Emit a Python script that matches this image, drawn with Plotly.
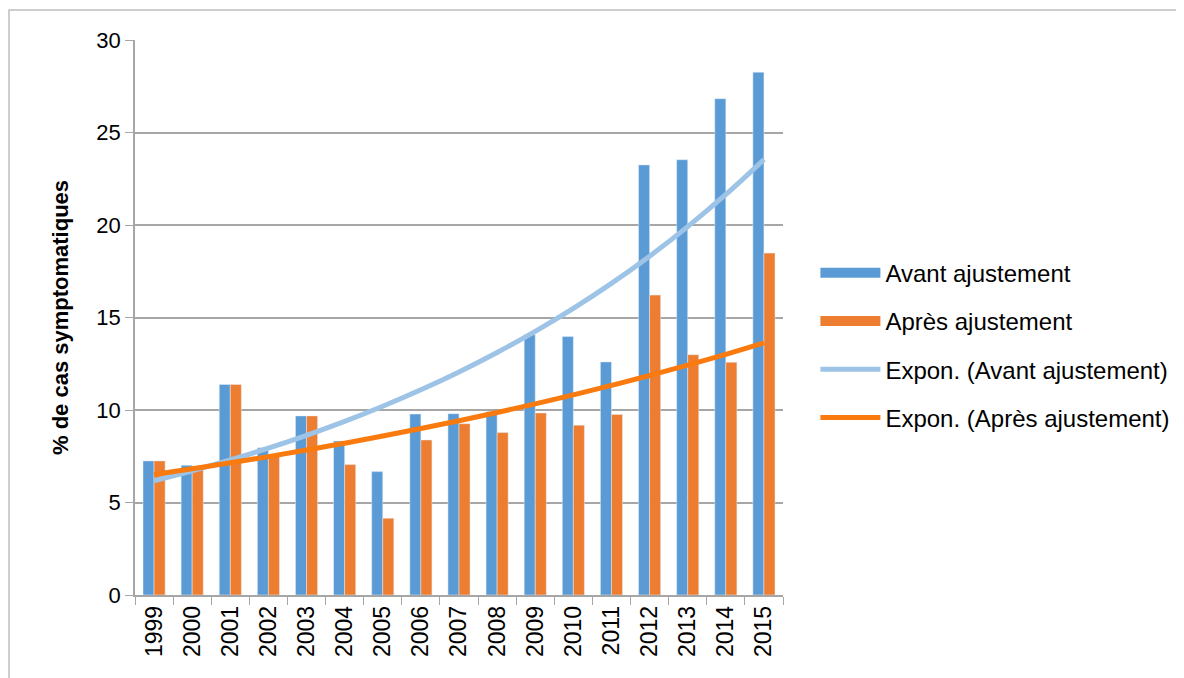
import numpy as np
import plotly.graph_objects as go

years = ["1999", "2000", "2001", "2002", "2003", "2004", "2005", "2006", "2007",
         "2008", "2009", "2010", "2011", "2012", "2013", "2014", "2015"]
avant = [7.25, 7.01, 11.38, 7.96, 9.68, 8.32, 6.67, 9.78, 9.80,
         9.90, 14.07, 13.97, 12.60, 23.25, 23.53, 26.83, 28.26]
apres = [7.25, 6.95, 11.38, 7.60, 9.68, 7.05, 4.15, 8.38, 9.26,
         8.78, 9.84, 9.18, 9.76, 16.21, 12.99, 12.58, 18.48]

names = ["Avant ajustement", "Après ajustement",
         "Expon. (Avant ajustement)", "Expon. (Après ajustement)"]
colors = ["#5B9BD5", "#ED7D31", "#9DC3E6", "#F97B0F"]


def expon_trend(vals):
    # Excel-style exponential trendline: ln(y) = ln(a) + b*x, x = 1..n
    x = np.arange(1, len(vals) + 1)
    b, ln_a = np.polyfit(x, np.log(vals), 1)
    return list(np.exp(ln_a) * np.exp(b * x))


W, H = 1184, 678
ml, mr, mt, mb = 127, 409, 32, 91
pw, ph = W - ml - mr, H - mt - mb

fig = go.Figure()
fig.add_trace(go.Bar(x=years, y=avant, name=names[0], marker_color=colors[0],
                     showlegend=False))
fig.add_trace(go.Bar(x=years, y=apres, name=names[1], marker_color=colors[1],
                     showlegend=False))
# legend entries for the bars, drawn as wide rectangles (Excel-like)
for i, grp in ((0, "a"), (1, "b")):
    fig.add_trace(go.Scatter(x=[None], y=[None], name=names[i], mode="lines",
                             line=dict(color=colors[i], width=13),
                             legendgroup=grp, hoverinfo="skip"))
fig.add_trace(go.Scatter(x=years, y=expon_trend(avant), name=names[2], mode="lines",
                         line=dict(color=colors[2], width=5, shape="spline"),
                         legendgroup="c"))
fig.add_trace(go.Scatter(x=years, y=expon_trend(apres), name=names[3], mode="lines",
                         line=dict(color=colors[3], width=5, shape="spline"),
                         legendgroup="d"))

# light outer chart border
fig.add_shape(type="rect", xref="paper", yref="paper", layer="below",
              x0=(1 - ml) / pw, x1=(1250 - ml) / pw,
              y0=(H - mb - 760) / ph, y1=(H - mb - 2) / ph,
              line=dict(color="#BFBFBF", width=1.5), fillcolor="rgba(0,0,0,0)")

fig.update_layout(
    width=W, height=H,
    margin=dict(l=ml, r=mr, t=mt, b=mb, pad=0),
    paper_bgcolor="white", plot_bgcolor="white",
    barmode="group", bargap=0.42, bargroupgap=0,
    font=dict(family="Liberation Sans, Arial, sans-serif", size=20, color="black"),
    legend=dict(x=1.05, xanchor="left", y=0.45, yanchor="middle",
                font=dict(size=24, family="Liberation Sans, Arial, sans-serif"),
                tracegroupgap=14, itemwidth=60, bgcolor="rgba(0,0,0,0)"),
    xaxis=dict(type="category", tickangle=-90, showgrid=False,
               showline=True, linecolor="#A6A6A6", linewidth=1.5,
               ticks="outside", tickson="boundaries", ticklen=8, tickcolor="#A6A6A6",
               tickfont=dict(size=23)),
    yaxis=dict(range=[0, 30], dtick=5, showgrid=True, gridcolor="#A6A6A6", gridwidth=1.5,
               showline=True, linecolor="#A6A6A6", linewidth=1.5,
               ticks="outside", ticklen=8, tickcolor="#A6A6A6", zeroline=False,
               tickfont=dict(size=22),
               title=dict(text="<b>% de cas symptomatiques</b>", font=dict(size=22),
                          standoff=22)),
)

fig.write_html("out.html")
